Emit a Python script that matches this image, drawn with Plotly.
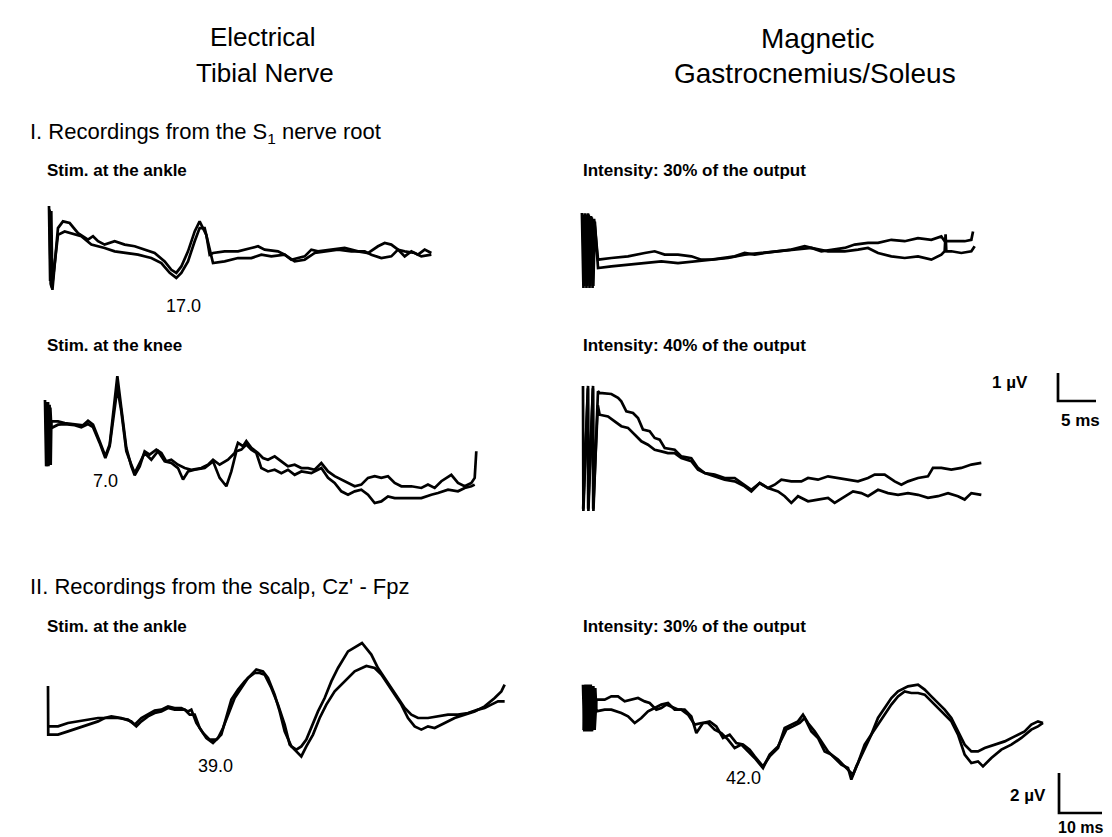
import plotly.graph_objects as go

W, H = 1112, 837
FONT = "Liberation Sans, Arial, Helvetica, sans-serif"

# ---------------- data (time in ms, amplitude in microvolts) ----------------
# Panel A: electrical tibial nerve, stim at ankle, S1 root recording
a_t1 = [0, 0.15, 0.3, 0.45, 1.18, 1.84, 2.72, 3.82, 5.13, 5.79, 6.45, 7.32, 8.64, 9.96, 11.27, 12.59, 13.9, 15.22, 16.1, 16.75, 17.41, 18.29, 19.17, 19.82, 20.26, 20.7, 21.14, 21.58, 23.11, 24.87, 26.62, 27.5, 28.38, 30.13, 31.01, 31.89, 32.76, 33.64, 34.52, 35.39, 37.15, 38.9, 40.66, 41.97, 43.29, 44.17, 45.04, 45.92, 46.8, 47.68, 48.55, 49.43, 50.31]
a_v1 = [1.68, -1.0, 1.5, -1.32, 0.89, 1.13, 1.07, 0.71, 0.48, 0.6, 0.42, 0.3, 0.42, 0.3, 0.24, 0.12, 0.0, -0.3, -0.6, -0.71, -0.48, 0.06, 0.77, 1.13, 0.89, 0.65, -0.06, 0.0, 0.06, 0.06, 0.18, 0.24, 0.12, 0.06, -0.06, -0.24, -0.18, -0.12, 0.12, 0.06, 0.12, 0.18, 0.06, 0.0, 0.24, 0.36, 0.3, 0.12, -0.12, 0.06, -0.06, 0.12, 0.0]
a_t2 = [0.08, 0.22, 0.38, 1.18, 2.06, 2.94, 4.25, 5.57, 7.32, 8.64, 9.96, 11.71, 13.46, 14.78, 15.88, 16.75, 17.41, 18.29, 19.17, 19.82, 20.48, 20.92, 21.58, 23.11, 24.87, 26.62, 27.94, 29.25, 31.01, 32.32, 33.64, 34.96, 36.27, 38.03, 39.78, 41.54, 42.41, 43.73, 45.04, 45.92, 46.8, 48.11, 48.99, 50.31]
a_v2 = [1.55, -1.1, -1.25, 0.65, 0.77, 0.71, 0.6, 0.3, 0.18, 0.06, 0.0, -0.06, -0.18, -0.36, -0.71, -0.89, -0.71, -0.3, 0.42, 0.89, 0.89, 0.42, -0.36, -0.3, -0.18, -0.18, -0.06, -0.12, -0.06, -0.3, -0.24, 0.0, 0.06, 0.12, 0.06, 0.06, -0.06, -0.18, -0.12, 0.12, 0.06, 0.0, -0.12, -0.06]

# Panel B: magnetic, 30 % output, S1 root recording
b_t1 = [-0.8, -0.6, -0.4, -0.2, 0.0, 0.2, 0.4, 0.6, 0.8, 1.32, 3.07, 5.26, 7.46, 8.77, 10.09, 11.84, 13.6, 14.91, 16.23, 17.54, 19.3, 20.61, 21.93, 23.25, 25.0, 26.75, 28.51, 29.39, 30.7, 32.02, 33.77, 35.09, 36.84, 38.16, 39.91, 41.67, 43.42, 45.18, 46.49, 46.93, 48.25, 49.56, 50.44, 50.66]
b_v1 = [1.61, -1.07, 1.6, -1.07, 1.6, -1.07, 1.5, -1.07, 1.4, -0.06, 0.0, 0.06, 0.18, 0.24, 0.12, 0.12, 0.06, -0.06, -0.06, 0.0, 0.06, 0.18, 0.12, 0.18, 0.24, 0.3, 0.42, 0.36, 0.24, 0.3, 0.36, 0.48, 0.54, 0.54, 0.65, 0.6, 0.71, 0.65, 0.77, 0.6, 0.6, 0.6, 0.65, 0.95]
b_t2 = [-0.7, -0.5, -0.3, -0.1, 0.1, 0.3, 0.5, 0.7, 0.9, 1.32, 3.07, 5.26, 7.46, 9.65, 11.84, 14.04, 16.23, 18.42, 20.61, 22.81, 25.0, 27.19, 29.39, 31.58, 33.77, 35.53, 36.84, 38.16, 39.91, 41.67, 43.42, 45.18, 46.49, 46.93, 47.05, 47.15, 47.81, 49.12, 50.44, 50.88]
b_v2 = [1.55, -1.0, 1.55, -1.0, 1.55, -1.0, 1.45, -1.0, 1.3, -0.36, -0.3, -0.24, -0.18, -0.12, -0.18, -0.12, -0.06, 0.0, 0.12, 0.18, 0.24, 0.3, 0.36, 0.24, 0.24, 0.3, 0.36, 0.18, 0.06, 0.0, 0.06, -0.06, 0.12, 0.24, 0.85, 0.24, 0.24, 0.18, 0.24, 0.42]

# Panel C: electrical, stim at knee, S1 root recording
c_t1 = [0, 0.15, 0.3, 0.45, 0.6, 0.75, 0.83, 1.71, 2.59, 3.9, 5.0, 5.66, 6.32, 7.19, 7.94, 8.51, 9.08, 9.52, 10.04, 10.7, 11.36, 11.8, 12.46, 13.11, 13.77, 14.65, 15.31, 15.96, 16.62, 17.5, 18.38, 19.25, 20.57, 21.45, 22.11, 22.98, 24.08, 24.96, 25.39, 26.05, 26.49, 27.15, 28.03, 28.68, 29.34, 30.22, 31.1, 31.97, 32.85, 33.73, 34.61, 35.48, 36.36, 37.24, 38.11, 38.99, 39.87, 40.75, 41.62, 42.5, 43.38, 44.25, 45.13, 46.01, 46.89, 48.2, 49.52, 50.39, 51.27, 52.15, 53.46, 54.34, 55.22, 56.1, 56.54, 56.75]
c_v1 = [2.07, -0.29, 2.0, -0.29, 1.9, -0.25, 1.31, 1.31, 1.25, 1.21, 1.17, 1.33, 1.19, 0.6, 0.06, 0.48, 1.79, 2.92, 1.79, 0.36, -0.3, -0.62, -0.3, 0.24, 0.12, 0.3, 0.18, -0.12, -0.06, -0.24, -0.36, -0.42, -0.36, -0.24, -0.06, -0.24, -0.06, 0.18, 0.54, 0.42, 0.6, 0.36, 0.18, 0.0, -0.06, 0.06, -0.12, -0.3, -0.24, -0.36, -0.36, -0.42, -0.18, -0.48, -0.65, -0.77, -0.89, -1.01, -0.95, -0.71, -0.65, -0.71, -0.65, -0.89, -1.01, -1.01, -1.07, -0.95, -1.07, -0.83, -0.6, -0.89, -1.01, -0.89, -0.71, 0.24]
c_t2 = [0.1, 0.25, 0.4, 0.55, 0.7, 0.83, 1.71, 2.59, 3.9, 4.78, 5.66, 6.32, 7.19, 7.94, 8.51, 9.08, 9.52, 10.04, 10.7, 11.36, 11.8, 12.46, 13.11, 13.99, 14.87, 15.75, 16.62, 17.5, 18.16, 18.82, 19.69, 21.01, 22.11, 22.98, 23.86, 24.52, 25.18, 25.83, 26.49, 27.15, 27.81, 28.46, 29.34, 30.22, 31.1, 31.97, 32.85, 33.73, 35.04, 36.36, 37.24, 38.11, 38.99, 39.87, 40.75, 41.62, 42.5, 43.38, 44.25, 45.13, 46.01, 47.76, 49.52, 50.83, 51.71, 53.03, 54.34, 55.22, 56.1, 56.54]
c_v2 = [2.0, -0.29, 2.0, -0.25, 1.8, 1.07, 1.19, 1.21, 1.17, 1.1, 1.21, 1.1, 0.54, 0.0, 0.42, 1.67, 2.5, 1.67, 0.24, -0.24, -0.54, -0.18, 0.18, -0.06, 0.24, -0.12, -0.18, -0.36, -0.77, -0.48, -0.42, -0.36, -0.12, -0.71, -1.01, -0.48, 0.24, 0.3, 0.48, 0.3, 0.18, -0.36, -0.48, -0.42, -0.54, -0.42, -0.6, -0.48, -0.54, -0.36, -0.71, -0.89, -1.19, -1.31, -1.19, -1.13, -1.31, -1.61, -1.55, -1.37, -1.43, -1.43, -1.43, -1.31, -1.25, -1.13, -1.19, -1.07, -1.01, -0.95]

# Panel D: magnetic, 40 % output, S1 root recording
d_t1 = [0, 0.05, 0.66, 0.71, 1.32, 1.37, 1.97, 2.19, 3.73, 4.61, 5.04, 5.7, 6.58, 7.24, 7.89, 8.77, 9.43, 10.09, 10.75, 12.06, 12.94, 14.25, 15.13, 16.01, 17.32, 18.64, 19.96, 21.27, 22.15, 23.25, 24.34, 25.22, 26.1, 27.41, 28.73, 29.61, 30.92, 32.24, 33.55, 34.87, 36.18, 37.5, 38.38, 39.69, 41.01, 41.89, 42.76, 44.08, 45.39, 46.05, 47.15, 48.46, 49.78, 51.1, 52.41]
d_v1 = [3.29, -1.18, 3.29, -1.18, 3.29, -1.18, 3.1, 3.04, 3.0, 2.86, 2.74, 2.38, 2.32, 2.14, 1.73, 1.67, 1.43, 1.37, 1.07, 1.01, 0.77, 0.71, 0.36, 0.18, 0.12, 0.0, 0.0, -0.24, -0.42, -0.18, -0.36, -0.24, -0.06, -0.12, -0.12, 0.0, -0.06, 0.06, 0.0, -0.06, -0.12, 0.0, 0.12, 0.12, -0.12, -0.24, -0.12, 0.0, 0.06, 0.36, 0.36, 0.3, 0.36, 0.48, 0.54]
d_t2 = [0.02, 0.64, 0.68, 1.3, 1.34, 1.95, 2.19, 3.29, 4.17, 5.04, 5.92, 6.8, 7.68, 8.55, 9.43, 10.31, 11.18, 12.06, 12.94, 14.25, 15.13, 16.01, 17.32, 18.64, 19.96, 21.27, 22.15, 23.25, 24.34, 25.66, 26.54, 27.41, 28.29, 29.61, 30.92, 32.24, 33.11, 34.43, 35.53, 36.62, 37.5, 38.82, 40.13, 41.45, 42.76, 44.08, 45.39, 46.71, 48.03, 49.34, 50.22, 51.1, 52.41]
d_v2 = [-1.1, 3.2, -1.1, 3.2, -1.1, 2.6, 2.26, 2.2, 2.02, 1.85, 1.79, 1.55, 1.31, 1.19, 1.01, 0.95, 0.89, 0.89, 0.71, 0.6, 0.3, 0.18, 0.06, -0.06, -0.12, -0.3, -0.48, -0.18, -0.36, -0.48, -0.65, -0.89, -0.65, -0.83, -0.77, -0.71, -0.89, -0.65, -0.48, -0.54, -0.65, -0.42, -0.54, -0.6, -0.54, -0.6, -0.71, -0.65, -0.54, -0.65, -0.77, -0.54, -0.6]

# Panel E: electrical, stim at ankle, scalp recording
e_t1 = [0.05, 0.39, 2.33, 4.65, 6.98, 9.3, 11.63, 13.95, 16.28, 18.6, 20.16, 21.71, 23.26, 24.81, 26.36, 27.91, 29.46, 31.01, 32.56, 33.33, 34.5, 36.05, 37.6, 39.15, 40.31, 41.47, 42.64, 44.19, 45.74, 47.29, 48.45, 50.0, 51.16, 52.71, 53.88, 55.04, 56.59, 57.75, 58.91, 60.08, 61.24, 62.79, 64.34, 65.89, 67.44, 69.77, 73.02, 75.19, 76.74, 78.29, 79.84, 81.4, 82.95, 84.5, 86.05, 88.37, 90.7, 93.02, 95.35, 97.67, 100.0, 101.55, 103.1, 104.65, 106.2]
e_v1 = [0.08, 0.08, 0.08, 0.25, 0.33, 0.42, 0.5, 0.5, 0.5, 0.42, 0.17, 0.5, 0.67, 0.87, 0.92, 1.08, 1.0, 1.0, 0.83, 0.92, 0.25, -0.25, -0.58, -0.58, -0.33, 0.5, 1.42, 1.92, 2.33, 2.67, 2.92, 2.83, 2.5, 1.67, 0.83, -0.17, -0.92, -1.08, -0.92, -0.58, 0.0, 0.83, 1.5, 2.33, 3.0, 3.83, 4.25, 3.67, 3.0, 2.5, 2.0, 1.5, 1.0, 0.67, 0.5, 0.5, 0.58, 0.67, 0.67, 0.75, 0.92, 1.0, 1.17, 1.33, 1.33]
e_t2 = [0.0, 0.05, 0.39, 2.33, 4.65, 6.98, 9.3, 11.63, 13.18, 14.73, 17.05, 19.38, 20.54, 21.71, 23.26, 24.81, 26.36, 27.91, 29.46, 31.78, 32.95, 34.11, 35.27, 36.82, 38.37, 39.53, 40.7, 41.86, 43.41, 44.96, 46.51, 48.06, 49.22, 50.39, 51.94, 53.49, 55.04, 56.2, 57.75, 58.91, 60.08, 61.63, 63.18, 64.73, 66.67, 68.99, 71.32, 74.03, 75.97, 77.52, 79.07, 80.62, 82.17, 83.72, 85.27, 86.82, 88.37, 89.92, 92.25, 94.57, 96.9, 99.22, 101.55, 103.88, 105.43, 106.2]
e_v2 = [2.1, -0.33, -0.33, -0.33, -0.17, 0.0, 0.17, 0.33, 0.5, 0.58, 0.5, 0.33, 0.08, 0.33, 0.58, 0.75, 0.83, 1.0, 0.92, 0.92, 0.67, 0.67, 0.0, -0.5, -0.75, -0.5, 0.0, 0.67, 1.5, 2.0, 2.5, 2.75, 2.75, 2.67, 2.0, 1.17, 0.17, -0.83, -1.17, -1.42, -0.92, -0.33, 0.5, 1.17, 1.83, 2.33, 2.83, 3.1, 3.0, 2.67, 2.17, 1.67, 1.17, 0.5, 0.08, -0.08, 0.08, 0.0, 0.25, 0.5, 0.67, 0.83, 1.08, 1.5, 1.83, 2.17]

# Panel F: magnetic, 30 % output, scalp recording
f_t1 = [0.0, 0.3, 0.6, 0.9, 1.2, 1.5, 1.8, 2.1, 2.4, 2.7, 3.1, 5.04, 6.59, 8.14, 9.69, 11.24, 12.79, 14.34, 15.5, 17.05, 18.22, 19.38, 20.54, 22.09, 23.64, 25.19, 26.36, 27.91, 29.46, 31.01, 32.56, 34.11, 35.66, 37.21, 38.76, 39.92, 41.86, 43.41, 45.35, 46.9, 48.45, 50.0, 51.16, 52.33, 53.88, 55.43, 56.98, 58.53, 60.08, 61.63, 62.4, 63.57, 65.5, 67.05, 68.6, 70.16, 71.71, 73.26, 75.58, 77.91, 79.46, 81.01, 82.56, 84.11, 85.66, 87.21, 88.76, 90.31, 91.86, 93.41, 95.74, 98.06, 100.39, 102.71, 104.26, 105.81, 106.98]
f_v1 = [1.17, -1.17, 1.17, -1.17, 1.17, -1.17, 1.17, -1.17, 1.1, -1.1, 0.42, 0.42, 0.58, 0.58, 0.33, 0.42, 0.5, 0.33, 0.25, -0.08, 0.0, 0.17, 0.08, -0.08, -0.08, -0.42, -1.25, -0.75, -0.67, -0.92, -1.5, -1.33, -1.75, -1.83, -2.08, -2.42, -2.92, -2.42, -2.0, -1.0, -0.83, -0.67, -0.33, -0.75, -1.17, -1.67, -2.17, -2.5, -2.83, -3.0, -3.58, -2.92, -2.0, -1.33, -0.5, 0.0, 0.5, 0.83, 1.08, 1.17, 0.92, 0.58, 0.25, -0.08, -0.5, -1.17, -1.83, -2.17, -2.17, -2.0, -1.83, -1.67, -1.42, -1.17, -0.83, -0.67, -0.75]
f_t2 = [0.15, 0.45, 0.75, 1.05, 1.35, 1.65, 1.95, 2.25, 2.55, 2.85, 3.1, 5.04, 6.59, 8.91, 10.47, 12.02, 13.57, 15.12, 16.67, 18.22, 19.77, 21.32, 22.87, 24.42, 25.97, 27.52, 29.07, 30.62, 32.17, 33.72, 35.27, 36.82, 38.37, 39.92, 41.86, 43.41, 45.35, 47.29, 48.84, 50.39, 51.55, 53.1, 54.65, 56.2, 57.75, 59.3, 60.85, 62.02, 62.79, 63.95, 65.5, 67.05, 68.6, 70.16, 71.71, 73.26, 74.81, 76.36, 77.91, 79.46, 81.01, 82.56, 84.11, 85.66, 87.21, 88.76, 90.31, 91.86, 93.02, 94.96, 97.29, 99.61, 101.94, 104.26, 105.81, 106.98]
f_v2 = [-1.1, 1.1, -1.1, 1.1, -1.1, 1.1, -1.1, 1.1, -1.1, 1.0, -0.17, -0.08, -0.08, -0.25, -0.42, -0.75, -0.5, -0.17, 0.0, 0.17, 0.25, -0.08, -0.08, -0.33, -0.83, -0.75, -0.75, -1.08, -1.25, -1.58, -2.0, -1.83, -2.17, -2.5, -3.0, -2.33, -1.92, -1.08, -0.92, -0.75, -0.5, -1.17, -1.5, -2.17, -2.33, -2.58, -2.92, -3.17, -3.33, -2.75, -1.83, -1.33, -0.83, -0.33, 0.17, 0.58, 0.83, 0.75, 0.75, 0.67, 0.33, 0.0, -0.33, -0.67, -1.33, -2.33, -2.75, -2.67, -2.92, -2.5, -2.08, -1.83, -1.5, -1.08, -0.92, -0.75]

# scale bars (value units)
top_bar_ms, top_bar_uv = 5, 1
bot_bar_ms, bot_bar_uv = 10, 2

# ---------------- layout geometry (pixels) ----------------
# each panel: origin x (t=0), px per ms, baseline y, px per uV
panels = [
    dict(x0=41, s=7.6, y0=245, k=28, traces=[(a_t1, a_v1), (a_t2, a_v2)]),
    dict(x0=580, s=7.6, y0=250, k=28, traces=[(b_t1, b_v1), (b_t2, b_v2)]),
    dict(x0=37, s=7.6, y0=450, k=28, traces=[(c_t1, c_v1), (c_t2, c_v2)]),
    dict(x0=575, s=7.6, y0=470, k=28, traces=[(d_t1, d_v1), (d_t2, d_v2)]),
    dict(x0=40, s=4.3, y0=720, k=20, traces=[(e_t1, e_v1), (e_t2, e_v2)]),
    dict(x0=575, s=4.3, y0=700, k=20, traces=[(f_t1, f_v1), (f_t2, f_v2)]),
]
LW = 2.7

fig = go.Figure()
layout_axes = {}
for i, p in enumerate(panels, start=1):
    sx = "" if i == 1 else str(i)
    for (t, v) in p["traces"]:
        fig.add_trace(go.Scatter(x=t, y=v, mode="lines", xaxis="x" + sx, yaxis="y" + sx,
                                 line=dict(color="black", width=LW), showlegend=False,
                                 hoverinfo="skip", cliponaxis=False))
    xr = [-p["x0"] / p["s"], (W - p["x0"]) / p["s"]]
    yr = [-(H - p["y0"]) / p["k"], p["y0"] / p["k"]]
    xa = dict(domain=[0, 1], range=xr, visible=False, anchor="y" + sx, fixedrange=True)
    ya = dict(domain=[0, 1], range=yr, visible=False, anchor="x" + sx, fixedrange=True)
    if i > 1:
        xa["overlaying"] = "x"
        ya["overlaying"] = "y"
    layout_axes["xaxis" + sx] = xa
    layout_axes["yaxis" + sx] = ya

# scale bars drawn in the data units of panels D and F
t_top0, v_top0 = 62.5, 2.75
t_bot0, v_bot0 = 110.7, -5.25
fig.add_trace(go.Scatter(x=[t_top0, t_top0, t_top0 + top_bar_ms], y=[v_top0 + top_bar_uv, v_top0, v_top0],
                         mode="lines", xaxis="x4", yaxis="y4", line=dict(color="black", width=LW),
                         showlegend=False, hoverinfo="skip", cliponaxis=False))
fig.add_trace(go.Scatter(x=[t_bot0, t_bot0, t_bot0 + bot_bar_ms], y=[v_bot0 + bot_bar_uv, v_bot0, v_bot0],
                         mode="lines", xaxis="x6", yaxis="y6", line=dict(color="black", width=LW),
                         showlegend=False, hoverinfo="skip", cliponaxis=False))


def ann(text, x, y, anchor="left", size=18):
    return dict(text=text, x=x / W, y=1 - y / H, xref="paper", yref="paper",
                xanchor=anchor, yanchor="middle", showarrow=False,
                font=dict(family=FONT, size=size, color="black"))


annotations = [
    ann("Electrical", 254, 29, "center", 26),
    ann("Tibial Nerve", 257, 65, "center", 26),
    ann("Magnetic", 810, 31, "center", 28),
    ann("Gastrocnemius/Soleus", 807, 66, "center", 28),
    ann("I. Recordings from the S<sub>1</sub> nerve root", 20, 125, "left", 22),
    ann("<b>Stim. at the ankle</b>", 37, 162, "left", 17),
    ann("<b>Intensity: 30% of the output</b>", 573, 162, "left", 17),
    ann("17.0", 175, 298, "center", 18),
    ann("<b>Stim. at the knee</b>", 37, 337, "left", 17),
    ann("<b>Intensity: 40% of the output</b>", 573, 337, "left", 17),
    ann("<b>1 µV</b>", 1022, 374, "right", 17),
    ann("<b>5 ms</b>", 1072, 413, "center", 17),
    ann("7.0", 97, 473, "center", 18),
    ann("II. Recordings from the scalp, Cz' - Fpz", 20, 578, "left", 22),
    ann("<b>Stim. at the ankle</b>", 37, 618, "left", 17),
    ann("<b>Intensity: 30% of the output</b>", 573, 618, "left", 17),
    ann("39.0", 207, 758, "center", 18),
    ann("42.0", 735, 770, "center", 18),
    ann("<b>2 µV</b>", 1040, 787, "right", 17),
    ann("<b>10 ms</b>", 1072, 819, "center", 16),
]

fig.update_layout(width=W, height=H, margin=dict(l=0, r=0, t=0, b=0),
                  paper_bgcolor="white", plot_bgcolor="rgba(0,0,0,0)",
                  showlegend=False, annotations=annotations, **layout_axes)

fig.write_html("out.html", config={"displayModeBar": False})
